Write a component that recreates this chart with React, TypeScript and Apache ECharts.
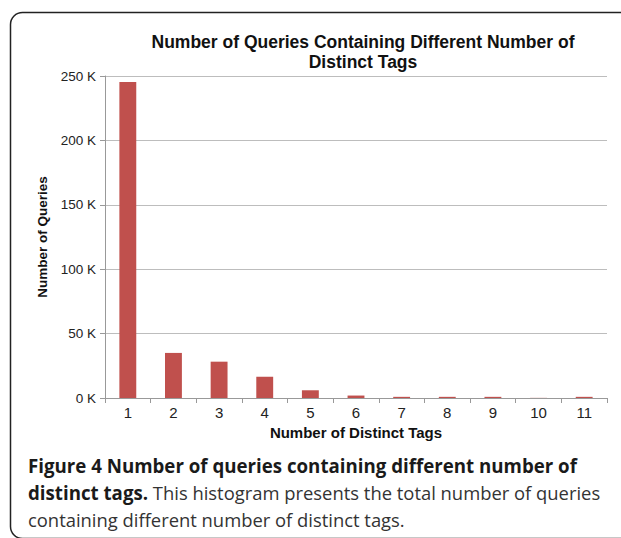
import React, { useEffect, useRef } from "react";
import * as echarts from "echarts";

const categories = ["1", "2", "3", "4", "5", "6", "7", "8", "9", "10", "11"];
const queryCounts = [245300, 35000, 28200, 16500, 6000, 1900, 900, 900, 900, 100, 900];
const yTicks = { min: 0, max: 250000, interval: 50000 };

const chartTitle = "Number of Queries Containing Different Number of\nDistinct Tags";
const xName = "Number of Distinct Tags";
const yName = "Number of Queries";
const captionLine1 = "Figure 4 Number of queries containing different number of";
const captionLine2Bold = "distinct tags.";
const captionLine2 = " This histogram presents the total number of queries";
const captionLine3 = "containing different number of distinct tags.";

export default function App() {
  const ref = useRef<HTMLDivElement>(null);
  useEffect(() => {
    if (!ref.current) return;
    const chart = echarts.init(ref.current, null, { renderer: "svg" });
    const axisFont = "Liberation Sans, Arial, sans-serif";
    const capFont = "Open Sans, sans-serif";
    const capBold = 18.7;
    const capReg = 18.4;
    chart.setOption({
      animation: false,
      backgroundColor: "#ffffff",
      title: {
        text: chartTitle,
        left: 358,
        textAlign: "center",
        top: 27,
        textStyle: {
          fontFamily: axisFont,
          fontWeight: "bold",
          fontSize: 17.5,
          color: "#111",
          lineHeight: 20,
        },
      },
      grid: { left: 105, right: 14, top: 76, bottom: 140 },
      xAxis: {
        type: "category",
        data: categories,
        name: xName,
        nameLocation: "middle",
        nameGap: 26,
        nameTextStyle: { fontFamily: axisFont, fontWeight: "bold", fontSize: 15, color: "#111" },
        axisLine: { lineStyle: { color: "#999", width: 1 } },
        axisTick: { show: true, length: 5, lineStyle: { color: "#999" } },
        axisLabel: { fontFamily: axisFont, fontSize: 15, color: "#222", margin: 7 },
      },
      yAxis: {
        type: "value",
        min: yTicks.min,
        max: yTicks.max,
        interval: yTicks.interval,
        name: yName,
        nameLocation: "middle",
        nameGap: 54,
        nameTextStyle: { fontFamily: axisFont, fontWeight: "bold", fontSize: 13.5, color: "#111" },
        axisLine: { show: true, lineStyle: { color: "#999", width: 1 } },
        axisTick: { show: true, length: 5, lineStyle: { color: "#999" } },
        axisLabel: {
          fontFamily: axisFont,
          fontSize: 13.5,
          color: "#222",
          margin: 9,
          formatter: (v: number) => `${v / 1000} K`,
        },
        splitLine: { lineStyle: { color: "#bdbdbd", width: 1 } },
      },
      series: [
        {
          type: "bar",
          data: queryCounts,
          barCategoryGap: "63%",
          itemStyle: { color: "#c0504d" },
        },
      ],
      graphic: [
        {
          type: "rect",
          silent: true,
          shape: { x: 10.5, y: 12.5, width: 700, height: 526, r: 12 },
          style: { fill: "none", stroke: "#222", lineWidth: 1.5 },
          z: 100,
        },
        {
          type: "text",
          left: 28,
          top: 456,
          style: {
            text: captionLine1,
            fontFamily: capFont,
            fontWeight: "bold",
            fontSize: capBold,
            fill: "#1a1a1a",
          },
        },
        {
          type: "text",
          left: 28,
          top: 483,
          style: {
            text: `{b|${captionLine2Bold}}{r|${captionLine2}}`,
            rich: {
              b: { fontFamily: capFont, fontWeight: "bold", fontSize: capBold, fill: "#1a1a1a" },
              r: { fontFamily: capFont, fontWeight: "normal", fontSize: capReg, fill: "#333" },
            },
          },
        },
        {
          type: "text",
          left: 28,
          top: 510,
          style: {
            text: captionLine3,
            fontFamily: capFont,
            fontSize: capReg,
            fill: "#333",
          },
        },
      ],
    });
    return () => chart.dispose();
  }, []);
  return (
    <div
      ref={ref}
      style={{ position: "fixed", left: 0, top: 0, width: 621, height: 538, background: "#fff" }}
    />
  );
}
